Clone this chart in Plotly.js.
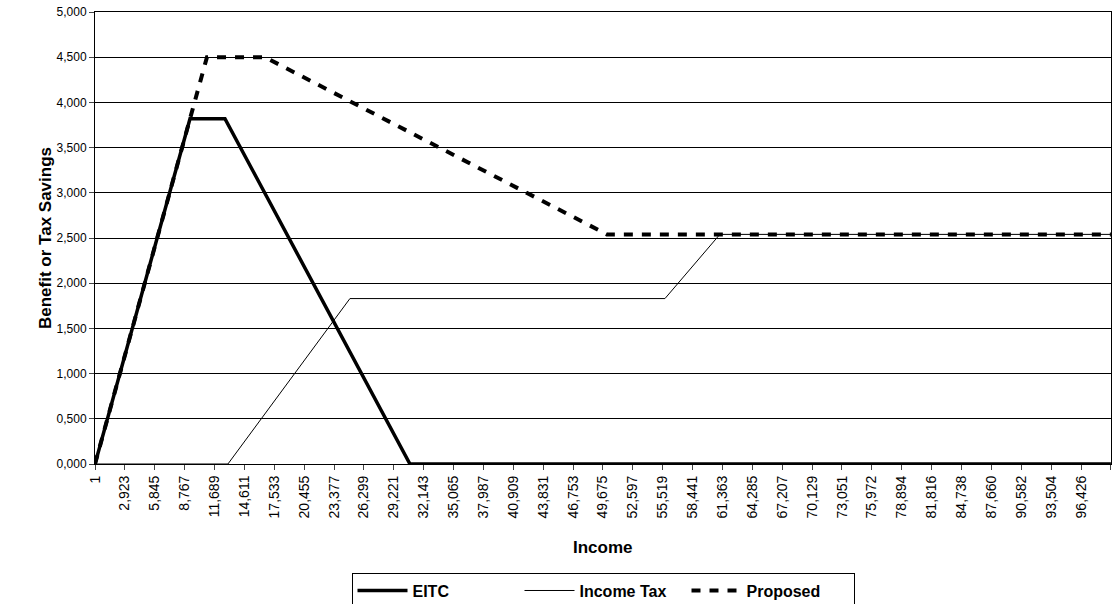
<!DOCTYPE html>
<html>
<head>
<meta charset="utf-8">
<script src="https://cdn.plot.ly/plotly-3.0.1.min.js"></script>
<style>body{margin:0;background:#fff}#chart{width:1113px;height:604px}</style>
</head>
<body>
<div id="chart"></div>
<script>
// Breakpoints
const eitcX = [1, 9290, 12710, 30800, 99348];
const eitcY = [0, 3820, 3820, 0, 0];

const taxX = [1, 13000, 24930, 55740, 61110, 99348];
const taxY = [0, 0, 1830, 1830, 2540, 2540];

const propX = [1, 10950, 16620, 50060, 99348];
const propY = [0, 4500, 4500, 2540, 2540];

// Tick labels
const xTicks = [1, 2923, 5845, 8767, 11689, 14611, 17533, 20455, 23377, 26299,
  29221, 32143, 35065, 37987, 40909, 43831, 46753, 49675, 52597, 55519, 58441,
  61363, 64285, 67207, 70129, 73051, 75972, 78894, 81816, 84738, 87660, 90582,
  93504, 96426, 99348];
const yTicks = [0, 500, 1000, 1500, 2000, 2500, 3000, 3500, 4000, 4500, 5000];
const yLabels = ["0,000", "0,500", "1,000", "1,500", "2,000", "2,500",
  "3,000", "3,500", "4,000", "4,500", "5,000"];

const traces = [
  { x: eitcX, y: eitcY, name: "EITC", mode: "lines", line: { color: "#000", width: 3.5 } },
  { x: taxX, y: taxY, name: "Income Tax", mode: "lines", line: { color: "#000", width: 1 } },
  { x: propX, y: propY, name: "Proposed", mode: "lines", line: { color: "#000", width: 4, dash: "9px,9px" } },
];

const boldFont = { size: 17, family: "Liberation Sans, Arial", weight: "bold" };

const layout = {
  width: 1113, height: 604,
  margin: { l: 95, r: 2, t: 12, b: 140 },
  font: { family: "Liberation Sans, Arial", color: "#000", size: 12 },
  paper_bgcolor: "#fff", plot_bgcolor: "#fff",
  showlegend: true,
  legend: {
    orientation: "h", x: 0.5, xanchor: "center",
    yref: "container", y: 0.052, yanchor: "top",
    bordercolor: "#000", borderwidth: 1, itemwidth: 50, entrywidth: 102,
    font: { size: 16, family: "Liberation Sans, Arial", weight: "bold" },
  },
  xaxis: {
    range: [1, 99360], automargin: false,
    tickvals: xTicks,
    ticktext: xTicks.map((v) => v.toLocaleString("en-US")),
    tickangle: -90, ticks: "outside", ticklen: 5,
    tickfont: { size: 14 },
    showgrid: false, zeroline: false,
    showline: true, linecolor: "#000", mirror: true,
  },
  yaxis: {
    range: [0, 5000], automargin: false,
    tickvals: yTicks, ticktext: yLabels,
    ticks: "outside", ticklen: 5,
    showgrid: true, gridcolor: "#000", gridwidth: 1, zeroline: false,
    showline: true, linecolor: "#000", mirror: true,
    title: { text: "Benefit or Tax Savings", font: boldFont },
  },
  annotations: [
    { text: "Income", font: boldFont, showarrow: false,
      xref: "paper", x: 0.5, yref: "paper", y: -0.184, yanchor: "middle" },
  ],
};

Plotly.newPlot("chart", traces, layout, { displayModeBar: false });
</script>
</body>
</html>
